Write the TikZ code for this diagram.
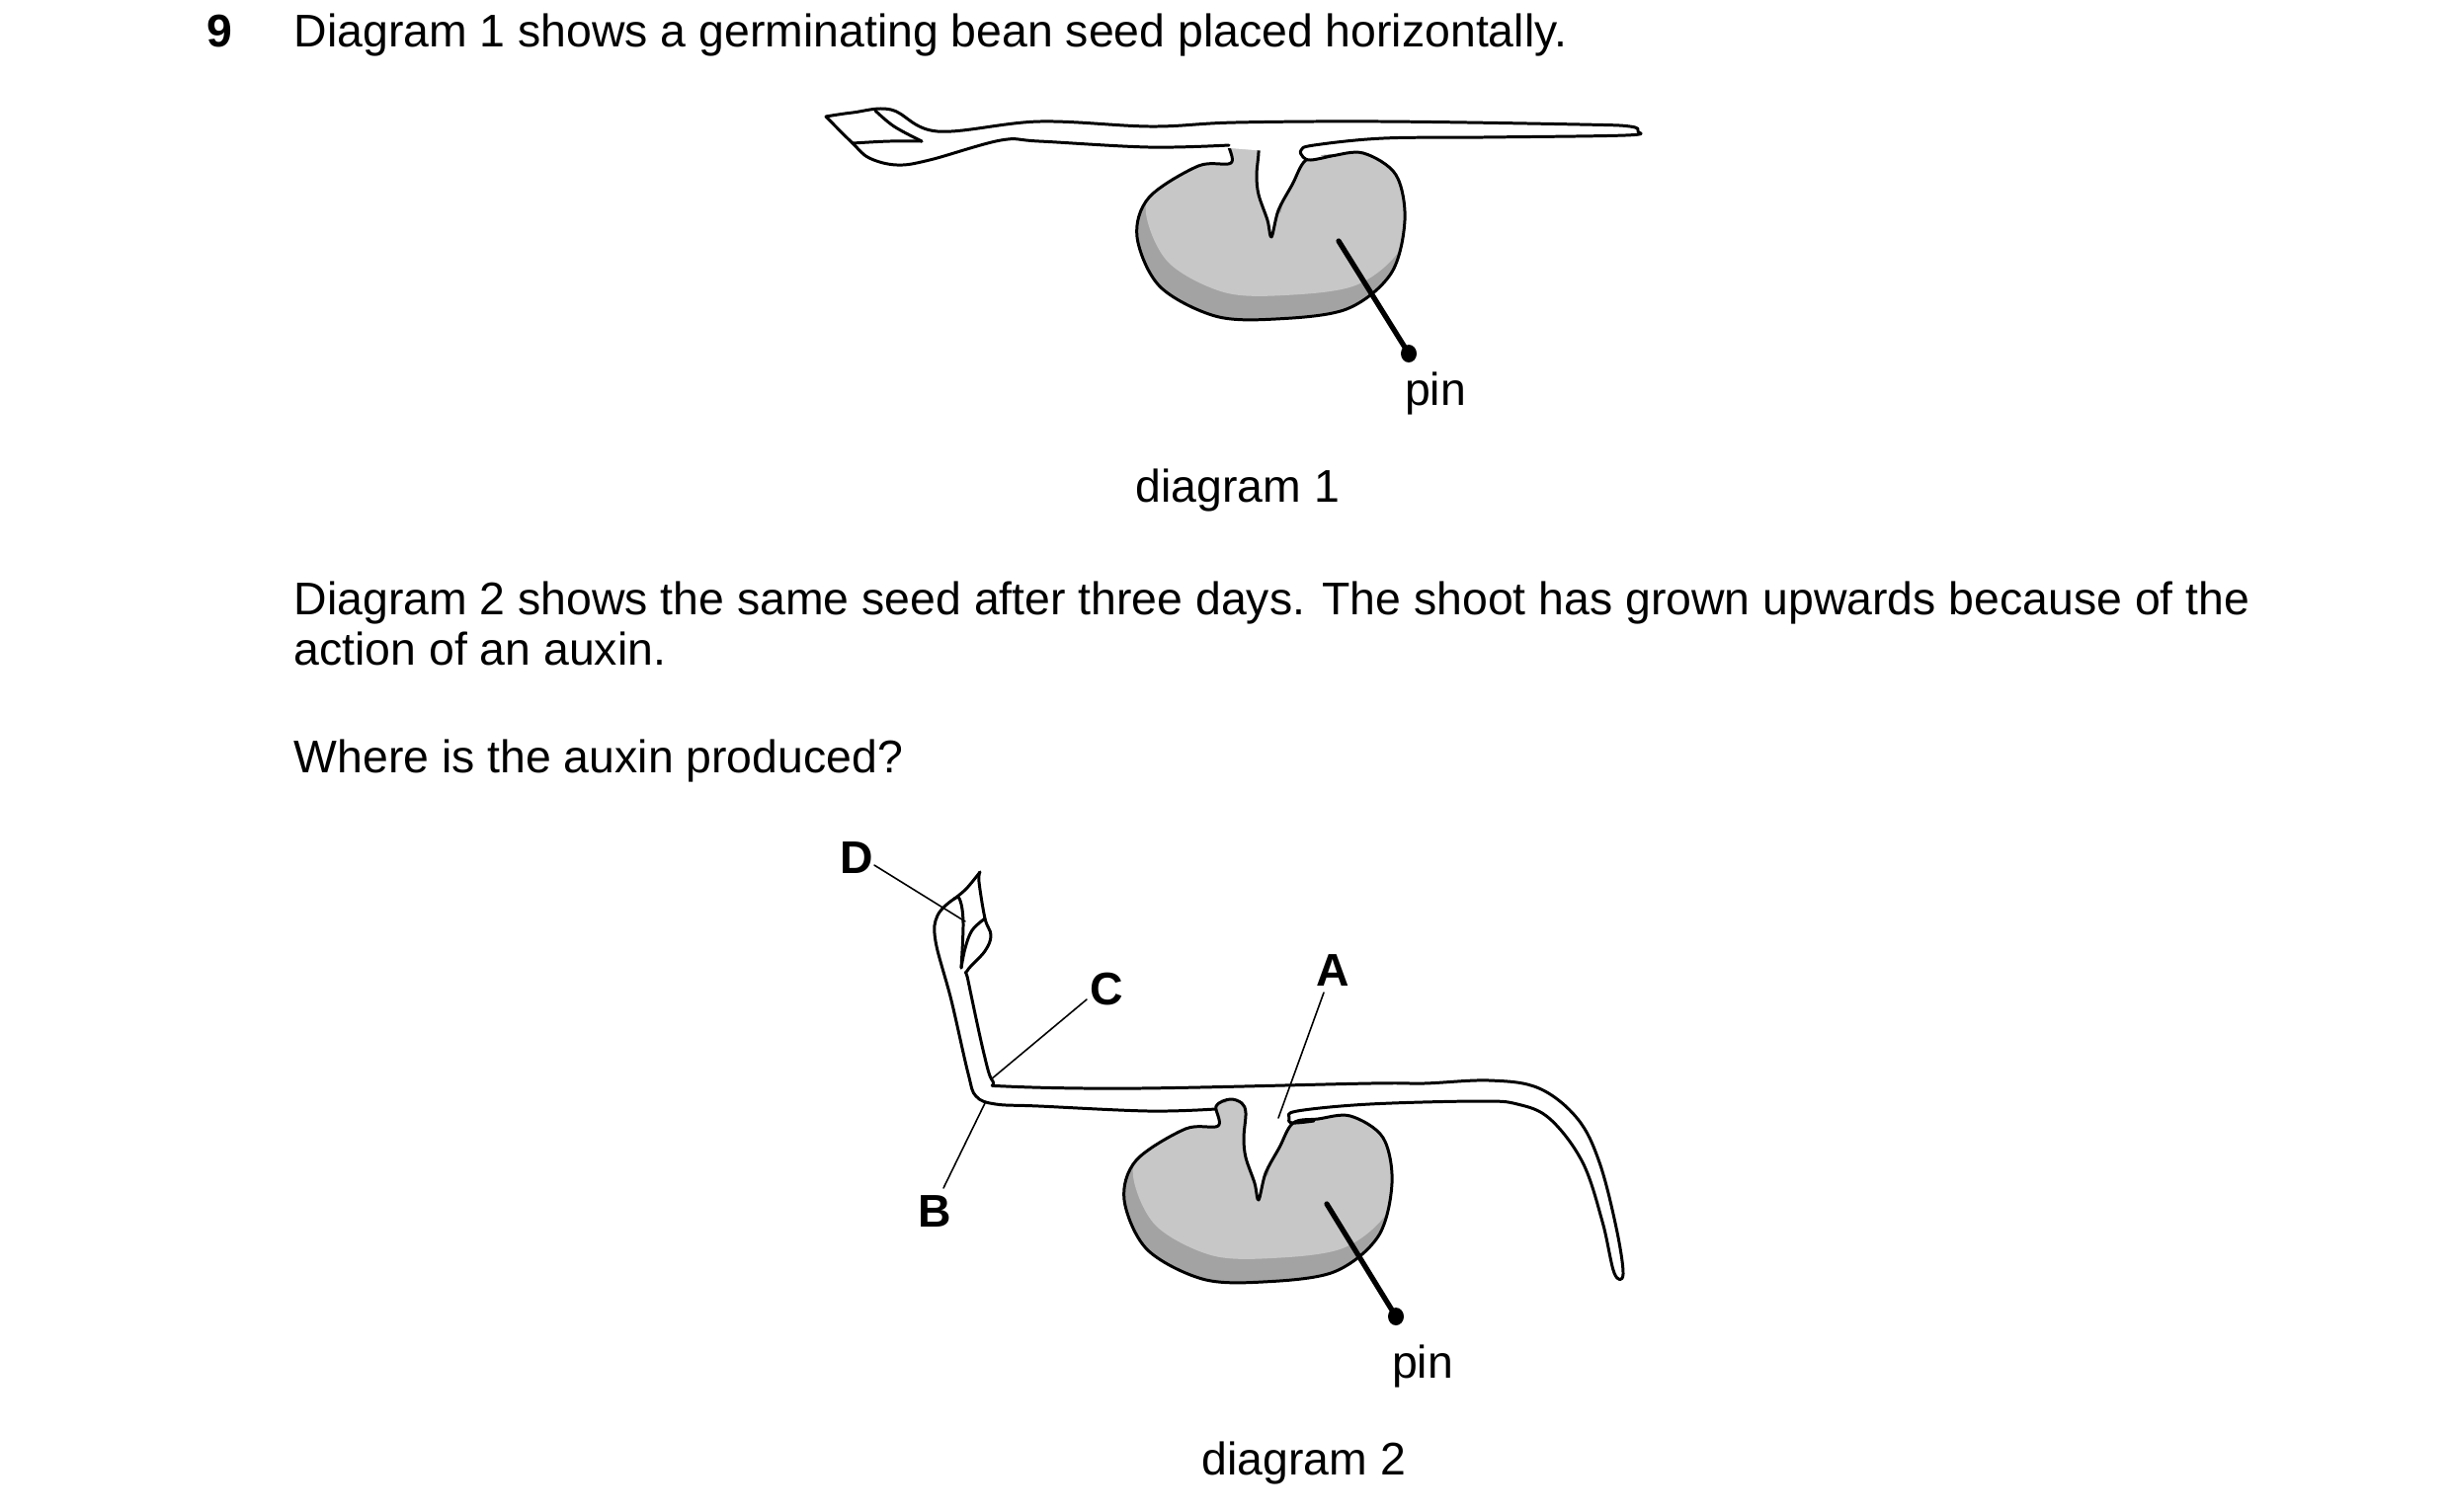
\documentclass[tikz,border=0pt]{standalone}
\usepackage{fontspec}
\setmainfont{Liberation Sans}
\begin{document}
\begin{tikzpicture}[x=0.1mm,y=-0.1mm,
  txt/.style={anchor=base west,inner sep=0,font=\fontsize{13.2}{15}\selectfont},
  ctxt/.style={anchor=base,inner sep=0,font=\fontsize{13.2}{15}\selectfont},
  lbl/.style={anchor=base,inner sep=0,font=\fontsize{13.2}{15}\selectfont\bfseries},
  outl/.style={line width=0.85pt,line join=round,line cap=round},
  thin/.style={line width=0.45pt,line cap=round},
  pinl/.style={line width=1.5pt,line cap=round},
  seedlight/.style={fill=black!22},
  seeddark/.style={fill=black!36}]
\useasboundingbox (0,0) rectangle (2480,1530);
\newcommand\myseed{plot[smooth cycle,tension=0.55] coordinates{(1258,138)(1270,142)(1274,152)(1272,177)(1274,197)(1283,223)(1287,240)(1294,213)(1308,187)(1322,162)(1347,158)(1380,155)(1413,177)(1422,223)(1408,277)(1363,313)(1291,323)(1230,320)(1174,290)(1151,240)(1163,200)(1213,168)(1246,165)(1244,145)}}
% texts
\node[txt,font=\fontsize{13.2}{15}\selectfont\bfseries] (n9) at (209,47) {9};
\node[txt] (t1) at (297,47) {Diagram 1 shows a germinating bean seed placed horizontally.};
\node[txt] (t2) at (297,622) {Diagram 2 shows the same seed after three days. The shoot has grown upwards because of the};
\node[txt] (t3) at (297,673) {action of an auxin.};
\node[txt] (t4) at (297,782) {Where is the auxin produced?};
\node[ctxt] (d1) at (1253,508) {diagram 1};
\node[ctxt] (d2) at (1320,1493) {diagram 2};
\node[ctxt] (pin1) at (1453,410) {pin};
\node[ctxt] (pin2) at (1440,1395) {pin};
% ---------- diagram 1 ----------
\begin{scope}
 \fill[seeddark] \myseed;
 \clip \myseed;
 \fill[seedlight,shift={(9,-24)}] \myseed;
\end{scope}
\draw[outl] \myseed;
\draw[outl,fill=white] plot[smooth,tension=0.6] coordinates{(836,118)(863,114)(902,111)(949,133)(1052,123)(1165,128)(1250,124)(1400,123)(1600,126)(1650,128)(1658,133)(1645,137)(1500,139)(1400,140)(1330,147)(1317,152)(1319,159)(1327,162)(1347,158)};
\draw[outl] plot[smooth,tension=0.6] coordinates{(1244,147)(1163,149)(1052,143)(1013,142)(941,162)(908,167)(880,160)(863,145)(836,118)};
\draw[outl] plot[smooth,tension=0.6] coordinates{(863,145)(900,143)(933,143)};
\draw[outl] plot[smooth,tension=0.6] coordinates{(886,112)(905,128)(933,143)};
\coordinate (p1a) at (1355,244); \coordinate (p1b) at (1426,358);
\draw[pinl] (p1a) -- (p1b);
\fill (p1b) ellipse (8 and 9);
% ---------- diagram 2 ----------
\begin{scope}[shift={(-13,975)}]
 \begin{scope}
  \fill[seeddark] \myseed;
  \clip \myseed;
  \fill[seedlight,shift={(9,-24)}] \myseed;
 \end{scope}
 \draw[outl] \myseed;
\end{scope}
\draw[outl] plot[smooth,tension=0.6] coordinates{(992,883)(991,893)(997,930)(1003,947)(997,963)(979,983)(980,993)(996,1067)(1005,1095)(1019,1100)(1152,1102)(1386,1097)(1441,1097)(1508,1094)(1558,1102)(1597,1133)(1619,1177)(1636,1243)(1643,1290)(1634,1289)(1622,1237)(1602,1177)(1569,1133)(1536,1118)(1497,1115)(1386,1118)(1313,1125)(1305,1132)(1308,1137)(1330,1135)};
\draw[outl] plot[smooth,tension=0.6] coordinates{(1230,1123)(1163,1125)(1052,1120)(1008,1118)(988,1110)(980,1087)(963,1013)(947,953)(949,927)(966,910)(972,912)(975,935)(973,980)};
\draw[outl] plot[smooth,tension=0.6] coordinates{(992,883)(978,900)(966,910)};
\draw[outl] plot[smooth,tension=0.6] coordinates{(997,930)(984,942)(977,960)(973,980)};
\coordinate (p2a) at (1343,1219); \coordinate (p2b) at (1413,1333);
\draw[pinl] (p2a) -- (p2b);
\fill (p2b) ellipse (8 and 9);
% labels
\node[lbl] (D) at (867,884) {D};
\node[lbl] (C) at (1120,1017) {C};
\node[lbl] (A) at (1349,998) {A};
\node[lbl] (B) at (946,1242) {B};
\coordinate (Dd) at (885,876); \coordinate (De) at (977,933);
\coordinate (Cd) at (1100,1012); \coordinate (Ce) at (1003,1093);
\coordinate (Ad) at (1340,1005); \coordinate (Ae) at (1294,1132);
\coordinate (Bd) at (955,1203); \coordinate (Be) at (997,1117);
\draw[thin] (Dd) -- (De);
\draw[thin] (Cd) -- (Ce);
\draw[thin] (Ad) -- (Ae);
\draw[thin] (Bd) -- (Be);
\end{tikzpicture}
\end{document}
